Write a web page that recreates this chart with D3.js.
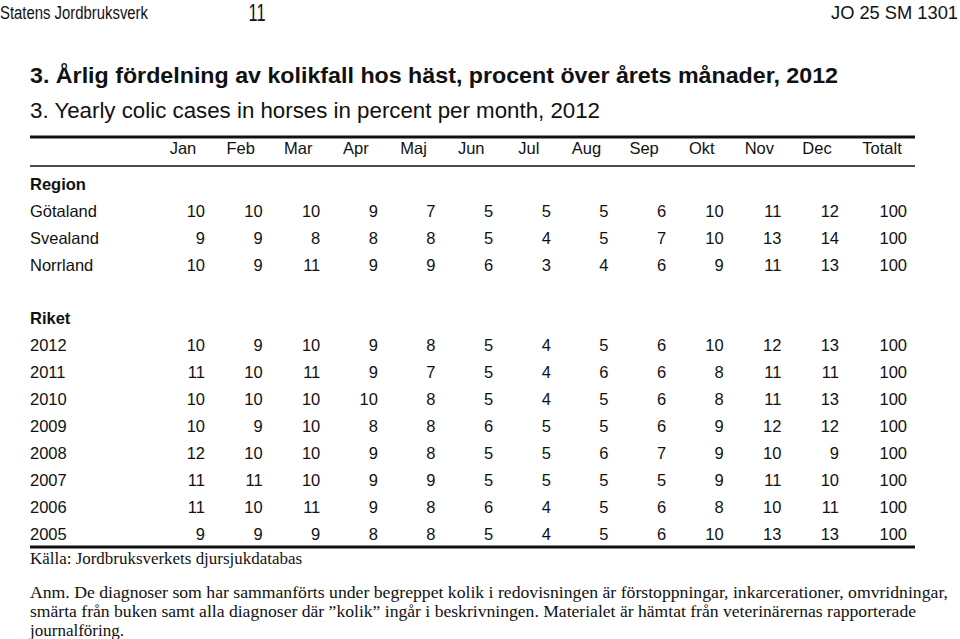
<!DOCTYPE html>
<html><head><meta charset="utf-8">
<script src="https://cdn.jsdelivr.net/npm/d3@7"></script>
<style>
html,body{margin:0;padding:0;background:#fff;}
svg{display:block;}
.sans{font-family:"Liberation Sans",Arial,sans-serif;}
.serif{font-family:"Liberation Serif","Times New Roman",serif;}
</style></head>
<body>
<svg id="chart" width="960" height="639"></svg>
<script>
const months = ["Jan","Feb","Mar","Apr","Maj","Jun","Jul","Aug","Sep","Okt","Nov","Dec"];
const totalLabel = "Totalt";
const regions = ["Götaland","Svealand","Norrland"];
const regionValues = [
  [10,10,10,9,7,5,5,5,6,10,11,12,100],
  [9,9,8,8,8,5,4,5,7,10,13,14,100],
  [10,9,11,9,9,6,3,4,6,9,11,13,100]
];
const years = ["2012","2011","2010","2009","2008","2007","2006","2005"];
const yearValues = [
  [10,9,10,9,8,5,4,5,6,10,12,13,100],
  [11,10,11,9,7,5,4,6,6,8,11,11,100],
  [10,10,10,10,8,5,4,5,6,8,11,13,100],
  [10,9,10,8,8,6,5,5,6,9,12,12,100],
  [12,10,10,9,8,5,5,6,7,9,10,9,100],
  [11,11,10,9,9,5,5,5,5,9,11,10,100],
  [11,10,11,9,8,6,4,5,6,8,10,11,100],
  [9,9,9,8,8,5,4,5,6,10,13,13,100]
];
const pageHeader = ["Statens Jordbruksverk","11","JO 25 SM 1301"];
const titleSv = "3. Årlig fördelning av kolikfall hos häst, procent över årets månader, 2012";
const titleEn = "3. Yearly colic cases in horses in percent per month, 2012";
const source = "Källa: Jordbruksverkets djursjukdatabas";
const noteLines = [
  "Anm. De diagnoser som har sammanförts under begreppet kolik i redovisningen är förstoppningar, inkarcerationer, omvridningar,",
  "smärta från buken samt alla diagnoser där \u201dkolik\u201d ingår i beskrivningen. Materialet är hämtat från veterinärernas rapporterade",
  "journalföring."
];

const svg = d3.select("#chart");
const ink = "#111";

// page header
const hdr = svg.append("g").attr("class","sans").attr("fill",ink).attr("font-size",18);
hdr.append("text").attr("x",0).attr("y",19).attr("textLength",148).attr("lengthAdjust","spacingAndGlyphs").text(pageHeader[0]);
hdr.append("text").attr("x",257).attr("y",21).attr("text-anchor","middle").attr("font-size",23).attr("textLength",17).attr("lengthAdjust","spacingAndGlyphs").text(pageHeader[1]);
hdr.append("text").attr("x",958).attr("y",19).attr("text-anchor","end").attr("textLength",127).attr("lengthAdjust","spacingAndGlyphs").text(pageHeader[2]);

// titles
svg.append("text").attr("class","sans").attr("x",30).attr("y",83).attr("font-size",22).attr("font-weight","bold").attr("fill",ink)
  .attr("textLength",808).attr("lengthAdjust","spacingAndGlyphs").text(titleSv);
svg.append("text").attr("class","sans").attr("x",30).attr("y",118).attr("font-size",22).attr("fill",ink)
  .attr("textLength",570).attr("lengthAdjust","spacingAndGlyphs").text(titleEn);

// scales
const x = d3.scalePoint().domain(months).range([205, 839]);
const colX = c => c === totalLabel ? x("Dec") + 68 : x(c);
const columns = months.concat([totalLabel]);
const rowKeys = ["Region"].concat(regions, ["_gap","Riket"], years);
const y = d3.scalePoint().domain(rowKeys).range([184, 534]);

const left = 30, right = 915;

// rules
svg.append("line").attr("x1",left).attr("x2",right).attr("y1",137).attr("y2",137).attr("stroke",ink).attr("stroke-width",3);
svg.append("line").attr("x1",left).attr("x2",right).attr("y1",166).attr("y2",166).attr("stroke",ink).attr("stroke-width",1.5);
svg.append("line").attr("x1",left).attr("x2",right).attr("y1",547).attr("y2",547).attr("stroke",ink).attr("stroke-width",3);

const tbl = svg.append("g").attr("class","sans").attr("font-size",16.5).attr("fill",ink);

// column headers
tbl.selectAll("text.colhead").data(columns).join("text").attr("class","colhead")
  .attr("x", c => colX(c) - (c === totalLabel ? 25 : 22))
  .attr("y",148).attr("dy","0.35em").attr("text-anchor","middle").text(c => c);

// section labels
tbl.selectAll("text.section").data(["Region","Riket"]).join("text").attr("class","section")
  .attr("x",left).attr("y",d => y(d)).attr("dy","0.35em").attr("font-weight","bold").text(d => d);

const rows = regions.map((r,i) => ({label:r, values:regionValues[i]}))
  .concat(years.map((r,i) => ({label:r, values:yearValues[i]})));

const rg = tbl.selectAll("g.row").data(rows).join("g").attr("class","row")
  .attr("transform", d => `translate(0,${y(d.label)})`);
rg.append("text").attr("x",left).attr("dy","0.35em").text(d => d.label);
rg.selectAll("text.v").data(d => d.values.map((v,i) => ({v, c:columns[i]}))).join("text").attr("class","v")
  .attr("x", d => colX(d.c)).attr("dy","0.35em").attr("text-anchor","end").text(d => d.v);

// footer
const ft = svg.append("g").attr("class","serif").attr("font-size",16).attr("fill",ink);
ft.append("text").attr("x",left).attr("y",564).attr("textLength",272).attr("lengthAdjust","spacingAndGlyphs").text(source);
const noteLens = [918, 886, 94];
ft.selectAll("text.note").data(noteLines).join("text").attr("class","note")
  .attr("x",left).attr("y",(d,i) => 598 + i*19)
  .attr("textLength",(d,i) => noteLens[i]).attr("lengthAdjust","spacingAndGlyphs").text(d => d);
</script>
</body></html>
